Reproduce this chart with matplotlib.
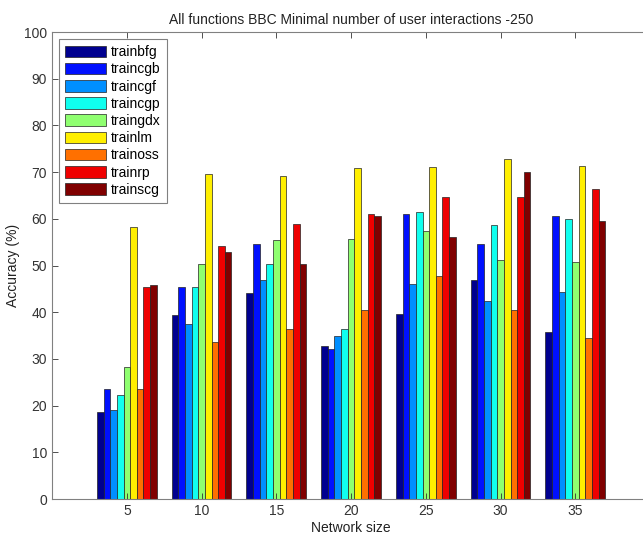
import matplotlib.pyplot as plt
import numpy as np

plt.rcParams['font.family'] = ['Liberation Sans', 'DejaVu Sans']

# Data
network_sizes = ['5', '10', '15', '20', '25', '30', '35']
functions = ['trainbfg', 'traincgb', 'traincgf', 'traincgp', 'traingdx',
             'trainlm', 'trainoss', 'trainrp', 'trainscg']

trainbfg = [18.6, 39.5, 44.2, 32.8, 39.7, 46.9, 35.8]
traincgb = [23.5, 45.3, 54.7, 32.1, 61.0, 54.6, 60.6]
traincgf = [19.1, 37.5, 47.0, 34.9, 46.0, 42.4, 44.4]
traincgp = [22.3, 45.3, 50.3, 36.4, 61.5, 58.7, 59.9]
traingdx = [28.3, 50.3, 55.4, 55.6, 57.4, 51.2, 50.7]
trainlm = [58.3, 69.7, 69.2, 70.9, 71.0, 72.9, 71.3]
trainoss = [23.5, 33.6, 36.4, 40.4, 47.7, 40.5, 34.5]
trainrp = [45.3, 54.2, 58.9, 61.0, 64.6, 64.6, 66.4]
trainscg = [45.8, 52.8, 50.3, 60.6, 56.2, 70.0, 59.5]

series = [trainbfg, traincgb, traincgf, traincgp, traingdx,
          trainlm, trainoss, trainrp, trainscg]

# MATLAB jet(64) rows picked by scaled bar CData (rows 1, 9, 17, ... 64)
colors = [(0, 0, 0.5625), (0, 0.0625, 1), (0, 0.5625, 1),
          (0.0625, 1, 0.9375), (0.5625, 1, 0.4375), (1, 0.9375, 0),
          (1, 0.4375, 0), (0.9375, 0, 0), (0.5, 0, 0)]

fig = plt.figure(figsize=(6.43, 5.34), dpi=100)
# axes runs slightly past the right edge, like the cropped original
ax = fig.add_axes([0.081, 0.0655, 0.930, 0.8745])

x = np.arange(1, len(network_sizes) + 1)
n = len(series)
width = 0.8 / n
for i, (vals, name) in enumerate(zip(series, functions)):
    offset = (i - (n - 1) / 2) * width
    ax.bar(x + offset, vals, width, color=colors[i], edgecolor='#222222',
           linewidth=0.5, label=name)

ax.set_xlim(0, 8)
ax.set_ylim(0, 100)
ax.set_xticks(x)
ax.set_xticklabels(network_sizes)
ax.set_yticks(np.arange(0, 101, 10))
ax.tick_params(direction='in', top=True, right=True, labelsize=10,
               colors='#333333', length=4, width=0.6)
for sp in ax.spines.values():
    sp.set_color('#808080')
    sp.set_linewidth(0.8)

ax.set_title('All functions BBC Minimal number of user interactions -250',
             fontsize=10, color='#222222', pad=6)
ax.set_xlabel('Network size', fontsize=10, color='#222222', labelpad=2)
ax.set_ylabel('Accuracy (%)', fontsize=10, color='#222222', labelpad=3)

leg = ax.legend(loc='upper left', fontsize=10, handlelength=2.95,
                handleheight=0.9, labelspacing=0.23, handletextpad=0.36,
                borderpad=0.45, borderaxespad=0.5, fancybox=False,
                edgecolor='#808080', framealpha=1)
leg.get_frame().set_linewidth(0.8)

fig.savefig('out.png', dpi=100)
